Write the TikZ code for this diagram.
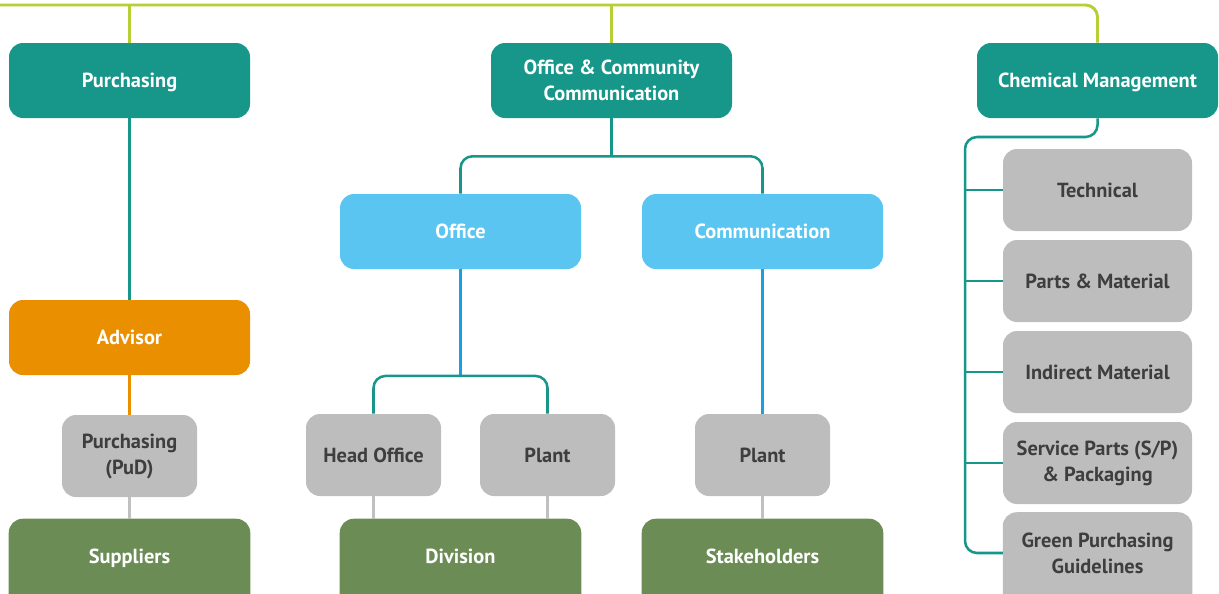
\documentclass[tikz,border=0pt]{standalone}
\usepackage{fontspec}
\setmainfont{PT Sans}
\usetikzlibrary{backgrounds}
\definecolor{tealc}{HTML}{17968A}
\definecolor{limec}{HTML}{B8CE35}
\definecolor{lblue}{HTML}{5BC5F1}
\definecolor{bluel}{HTML}{1BA0DF}
\definecolor{orangec}{HTML}{E98F00}
\definecolor{grayb}{HTML}{BDBDBD}
\definecolor{grayl}{HTML}{C0C0C0}
\definecolor{greenc}{HTML}{6B8C55}
\definecolor{darkt}{HTML}{3E3E3E}
\begin{document}
\begin{tikzpicture}[x=0.75pt,y=-0.75pt,
  box/.style={rounded corners=10.5pt, align=center, inner sep=0pt,
    font=\bfseries\fontsize{15.3}{19.5}\selectfont},
  one/.style={text height=10.6pt, text depth=0pt},
  wide/.style={box, minimum width=180.75pt, minimum height=56.25pt},
  headbox/.style={wide, fill=tealc, text=white},
  subbox/.style={wide, one, fill=lblue, text=white},
  advbox/.style={wide, one, fill=orangec, text=white},
  endbox/.style={wide, one, text=white, minimum height=55.5pt},
  graybox/.style={box, fill=grayb, text=darkt, minimum width=101.25pt, minimum height=61.5pt},
  rgraybox/.style={box, fill=grayb, text=darkt, minimum width=141.75pt, minimum height=61.5pt},
  rgraycut/.style={box, text=darkt, minimum width=141.75pt, minimum height=60.75pt},
  lline/.style={draw=limec, line width=2.2pt, rounded corners=9pt},
  tline/.style={draw=tealc, line width=1.9pt, rounded corners=9pt},
  bline/.style={draw=bluel, line width=1.9pt},
  oline/.style={draw=orangec, line width=1.9pt},
  gline/.style={draw=grayl, line width=1.9pt},
]
\useasboundingbox (0,0) rectangle (1219,593);
% top level
\node[headbox, one] (purch) at (129.5,80.5) {Purchasing};
\node[headbox] (occ) at (611.5,80.5) {Office \& Community\\Communication};
\node[headbox, one] (chem) at (1097.5,80.5) {Chemical Management};
% left column
\node[advbox] (adv) at (129.5,337.5) {Advisor};
\node[graybox] (pud) at (129.5,456) {Purchasing\\(PuD)};
\node[endbox] (sup) at (129.5,556) {Suppliers};
% middle
\node[subbox] (office) at (460.5,231.5) {Office};
\node[subbox] (comm) at (762.5,231.5) {Communication};
\node[graybox, one] (head) at (373.5,455) {Head Office};
\node[graybox, one] (plantA) at (547.5,455) {Plant};
\node[graybox, one] (plantB) at (762.5,455) {Plant};
\node[endbox] (div) at (460.5,556) {Division};
\node[endbox] (stake) at (762.5,556) {Stakeholders};
% right column
\node[rgraybox, one] (tech) at (1097.5,190) {Technical};
\node[rgraybox, one] (parts) at (1097.5,281) {Parts \& Material};
\node[rgraybox, one] (indir) at (1097.5,372) {Indirect Material};
\node[rgraybox] (serv) at (1097.5,463) {Service Parts (S/P)\\\& Packaging};
\node[rgraycut] (gp) at (1097.5,553) {Green Purchasing\\Guidelines};
\begin{scope}[on background layer]
  \fill[greenc, rounded corners=10.5pt] (sup.north west) rectangle ([yshift=-15pt]sup.south east);
  \fill[greenc, rounded corners=10.5pt] (div.north west) rectangle ([yshift=-15pt]div.south east);
  \fill[greenc, rounded corners=10.5pt] (stake.north west) rectangle ([yshift=-15pt]stake.south east);
  \fill[grayb, rounded corners=10.5pt] (gp.north west) rectangle ([yshift=-15pt]gp.south east);
\end{scope}
% top line
\coordinate (tl) at (0,5);
\draw[lline] (tl) -| (chem.north);
\draw[lline] (purch.north |- tl) -- (purch.north);
\draw[lline] (occ.north |- tl) -- (occ.north);
% left chain
\draw[tline] (purch.south) -- (adv.north);
\draw[oline] (adv.south) -- (pud.north);
\draw[gline] (pud.south) -- (sup.north);
% middle
\coordinate (j1) at ([yshift=-28.5pt]occ.south);
\draw[tline] (occ.south) -- (j1);
\draw[tline] (office.north) |- (j1) -| (comm.north);
\coordinate (j2) at ([yshift=-80pt]office.south);
\draw[bline] (office.south) -- (j2);
\draw[tline] (head.north) |- (j2) -| (plantA.north);
\draw[bline] (comm.south) -- (plantB.north);
\draw[gline] (head.south) -- (head.south |- div.north);
\draw[gline] (plantA.south) -- (plantA.south |- div.north);
\draw[gline] (plantB.south) -- (stake.north);
% right bracket
\coordinate (rt) at (965,137);
\draw[tline] (chem.south) |- (rt) |- (gp.west);
\draw[tline] (rt |- tech.west) -- (tech.west);
\draw[tline] (rt |- parts.west) -- (parts.west);
\draw[tline] (rt |- indir.west) -- (indir.west);
\draw[tline] (rt |- serv.west) -- (serv.west);
\end{tikzpicture}
\end{document}
